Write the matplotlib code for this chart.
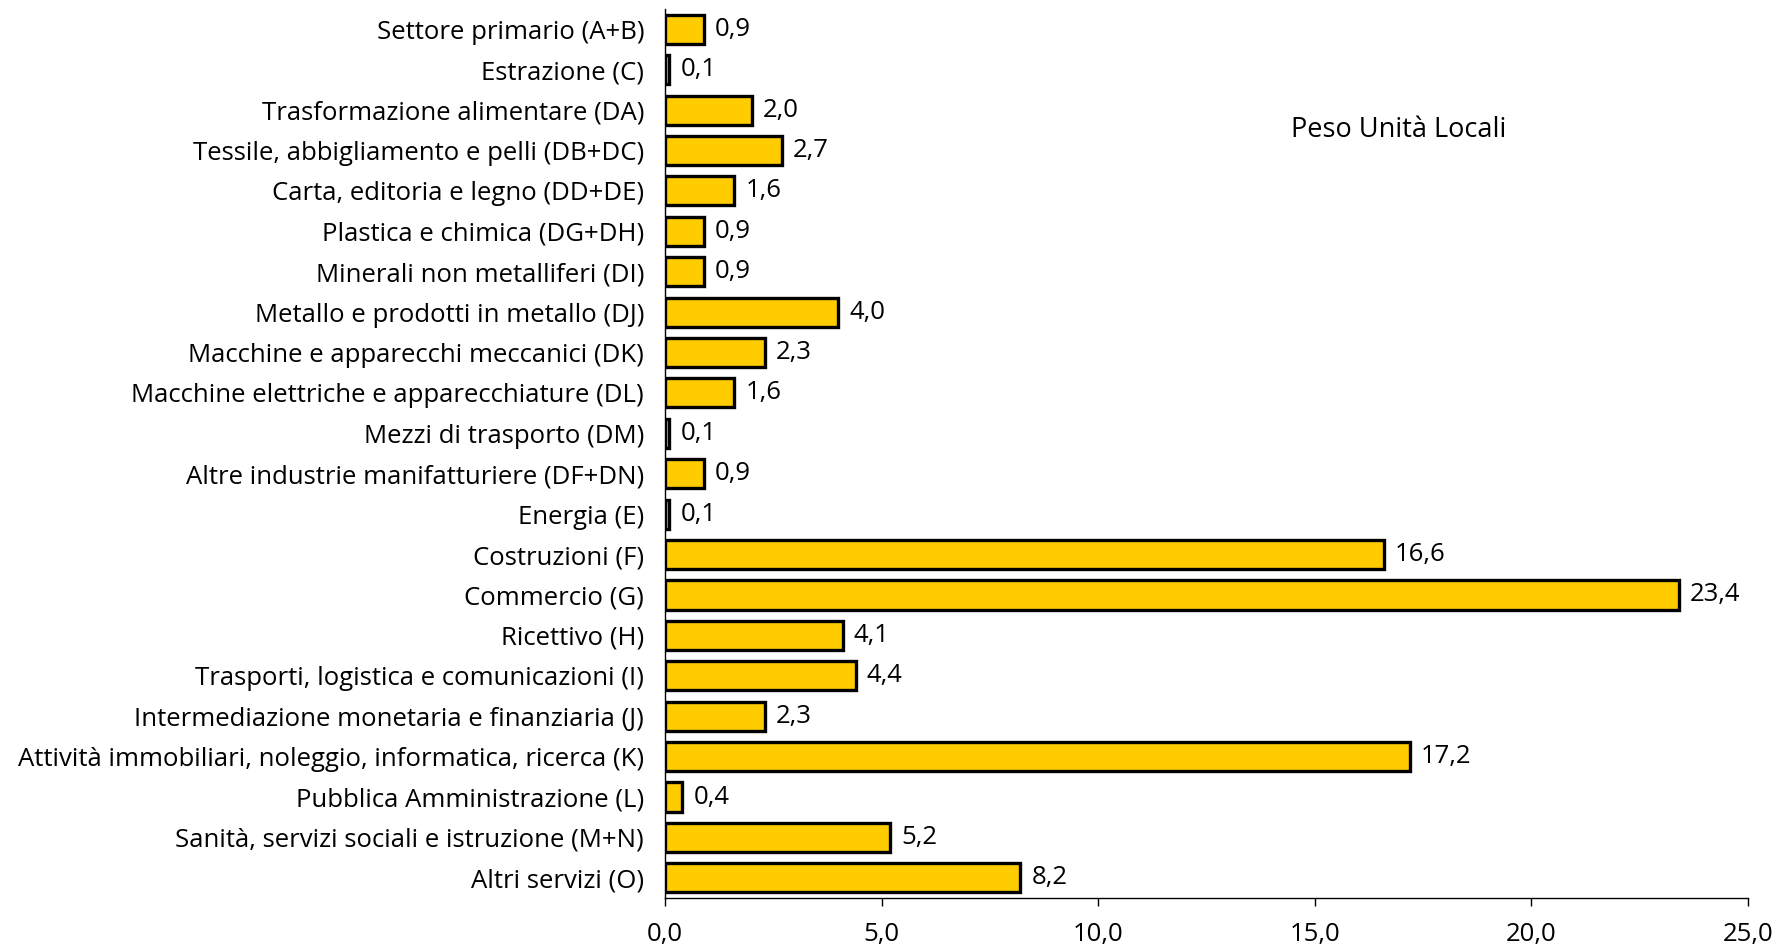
import matplotlib
matplotlib.use("Agg")
import matplotlib.pyplot as plt
from matplotlib.ticker import FuncFormatter

categories = [
    "Settore primario (A+B)",
    "Estrazione (C)",
    "Trasformazione alimentare (DA)",
    "Tessile, abbigliamento e pelli (DB+DC)",
    "Carta, editoria e legno (DD+DE)",
    "Plastica e chimica (DG+DH)",
    "Minerali non metalliferi (DI)",
    "Metallo e prodotti in metallo (DJ)",
    "Macchine e apparecchi meccanici (DK)",
    "Macchine elettriche e apparecchiature (DL)",
    "Mezzi di trasporto (DM)",
    "Altre industrie manifatturiere (DF+DN)",
    "Energia (E)",
    "Costruzioni (F)",
    "Commercio (G)",
    "Ricettivo (H)",
    "Trasporti, logistica e comunicazioni (I)",
    "Intermediazione monetaria e finanziaria (J)",
    "Attività immobiliari, noleggio, informatica, ricerca (K)",
    "Pubblica Amministrazione (L)",
    "Sanità, servizi sociali e istruzione (M+N)",
    "Altri servizi (O)",
]
values = [0.9, 0.1, 2.0, 2.7, 1.6, 0.9, 0.9, 4.0, 2.3, 1.6, 0.1, 0.9, 0.1,
          16.6, 23.4, 4.1, 4.4, 2.3, 17.2, 0.4, 5.2, 8.2]
x_ticks = [0, 5, 10, 15, 20, 25]
title = "Peso Unità Locali"

plt.rcParams["font.family"] = ["Open Sans", "DejaVu Sans"]
FS = 18.5

def comma(v, pos=None):
    return f"{v:.1f}".replace(".", ",")

fig = plt.figure(figsize=(17.8, 9.51), dpi=100)
ax = fig.add_axes([0.3736, 0.0557, 0.6084, 0.9348])

ypos = list(range(len(categories)))
ax.barh(ypos, values, height=0.72, color="#FFCC00", edgecolor="black",
        linewidth=2.4, zorder=3)
for y, v in zip(ypos, values):
    ax.annotate(comma(v), (v, y), xytext=(8, 0), textcoords="offset points",
                va="center", ha="left", fontsize=FS)

ax.set_ylim(len(categories) - 0.5, -0.5)
ax.set_xlim(0, 25)
ax.set_yticks(ypos)
ax.set_yticklabels(categories, fontsize=FS)
ax.set_xticks(x_ticks)
ax.xaxis.set_major_formatter(FuncFormatter(comma))
ax.tick_params(axis="x", labelsize=FS, length=6, width=1, pad=11, direction="out")
ax.tick_params(axis="y", length=0, pad=15)

for s in ("top", "right"):
    ax.spines[s].set_visible(False)
ax.spines["left"].set_linewidth(1)
ax.spines["bottom"].set_linewidth(1)

ax.text(0.786, 0.863, title, transform=fig.transFigure, fontsize=19.5,
        ha="center", va="center")

fig.savefig("out.png", dpi=100)
